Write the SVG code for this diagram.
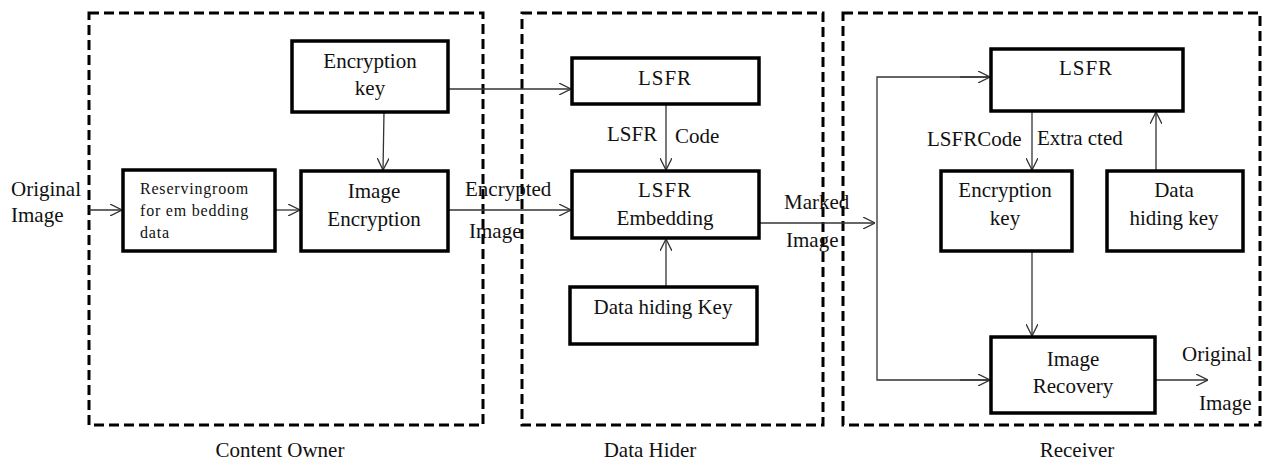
<svg xmlns="http://www.w3.org/2000/svg" width="1262" height="463" viewBox="0 0 1262 463">
<style>
text{font-family:"Liberation Serif","Times New Roman",serif;font-size:21px;fill:#111}
.c{text-anchor:middle}
.grp{fill:none;stroke:#000;stroke-width:3;stroke-dasharray:10 5}
.box{fill:#fff;stroke:#000;stroke-width:3.5}
.ln{fill:none;stroke:#333;stroke-width:1.3}
.sm{font-size:16px;letter-spacing:0.8px}
</style>
<defs>
<marker id="a" viewBox="0 0 12 12" refX="12" refY="6" markerWidth="12" markerHeight="12" markerUnits="userSpaceOnUse" orient="auto">
<path d="M0,0 L12,6 L0,12" fill="none" stroke="#333" stroke-width="1.3"/>
</marker>
</defs>
<rect width="1262" height="463" fill="#fff"/>
<g id="groups">
<rect class="grp" x="89" y="13" width="394" height="412"/>
<rect class="grp" x="522" y="13" width="301" height="412"/>
<rect class="grp" x="843" y="13" width="417" height="412"/>
<text class="c" x="280" y="457">Content Owner</text>
<text class="c" x="650" y="457">Data Hider</text>
<text class="c" x="1077" y="457">Receiver</text>
</g>
<g id="connectors">
<line class="ln" x1="89" y1="210" x2="122" y2="210" marker-end="url(#a)"/>
<line class="ln" x1="275" y1="210" x2="300" y2="210" marker-end="url(#a)"/>
<line class="ln" x1="384" y1="112" x2="383" y2="170" marker-end="url(#a)"/>
<line class="ln" x1="448" y1="89" x2="571" y2="89" marker-end="url(#a)"/>
<line class="ln" x1="448" y1="210" x2="571" y2="210" marker-end="url(#a)"/>
<line class="ln" x1="666" y1="104" x2="666" y2="170" marker-end="url(#a)"/>
<line class="ln" x1="666" y1="287" x2="666" y2="239" marker-end="url(#a)"/>
<line class="ln" x1="759" y1="223" x2="875" y2="223" marker-end="url(#a)"/>
<polyline class="ln" points="990,77 877,77 877,380 990,380"/>
<line class="ln" x1="960" y1="77" x2="990" y2="77" marker-end="url(#a)"/>
<line class="ln" x1="960" y1="380" x2="990" y2="380" marker-end="url(#a)"/>
<line class="ln" x1="1032" y1="111" x2="1032" y2="170" marker-end="url(#a)"/>
<line class="ln" x1="1156" y1="171" x2="1156" y2="112" marker-end="url(#a)"/>
<line class="ln" x1="1032" y1="251" x2="1032" y2="336" marker-end="url(#a)"/>
<line class="ln" x1="1155" y1="380" x2="1208" y2="380" marker-end="url(#a)"/>
<text x="11" y="196">Original</text>
<text x="11" y="222">Image</text>
<text x="465" y="196">Encrypted</text>
<text x="469" y="238">Image</text>
<text x="607" y="141">LSFR</text>
<text x="675" y="143">Code</text>
<text x="784" y="209">Marked</text>
<text x="786" y="247">Image</text>
<text x="927" y="146">LSFRCode</text>
<text x="1037" y="145">Extra cted</text>
<text x="1182" y="361">Original</text>
<text x="1199" y="410">Image</text>
</g>
<g id="enc-key">
<rect class="box" x="292" y="41" width="156" height="71"/>
<text class="c" x="370" y="68">Encryption</text>
<text class="c" x="370" y="95">key</text>
</g>
<g id="reserving">
<rect class="box" x="123" y="170" width="152" height="81"/>
<text class="sm" x="140" y="194">Reservingroom</text>
<text class="sm" x="140" y="216">for em bedding</text>
<text class="sm" x="140" y="238">data</text>
</g>
<g id="img-enc">
<rect class="box" x="301" y="171" width="147" height="80"/>
<text class="c" x="374" y="198">Image</text>
<text class="c" x="374" y="226">Encryption</text>
</g>
<g id="lsfr-hider">
<rect class="box" x="572" y="58" width="187" height="46"/>
<text class="c" x="665" y="85" style="letter-spacing:1px">LSFR</text>
</g>
<g id="lsfr-embed">
<rect class="box" x="572" y="171" width="187" height="67"/>
<text class="c" x="665" y="197" style="letter-spacing:1px">LSFR</text>
<text class="c" x="665" y="225">Embedding</text>
</g>
<g id="dh-key">
<rect class="box" x="570" y="287" width="187" height="57"/>
<text class="c" x="663" y="314">Data hiding Key</text>
</g>
<g id="lsfr-recv">
<rect class="box" x="991" y="49" width="192" height="62"/>
<text class="c" x="1086" y="75" style="letter-spacing:1px">LSFR</text>
</g>
<g id="enc-key-recv">
<rect class="box" x="941" y="171" width="131" height="80"/>
<text class="c" x="1005" y="197">Encryption</text>
<text class="c" x="1005" y="225">key</text>
</g>
<g id="dh-key-recv">
<rect class="box" x="1107" y="171" width="136" height="80"/>
<text class="c" x="1174" y="197">Data</text>
<text class="c" x="1174" y="225">hiding key</text>
</g>
<g id="img-recovery">
<rect class="box" x="991" y="337" width="164" height="76"/>
<text class="c" x="1073" y="366">Image</text>
<text class="c" x="1073" y="393">Recovery</text>
</g>
</svg>
